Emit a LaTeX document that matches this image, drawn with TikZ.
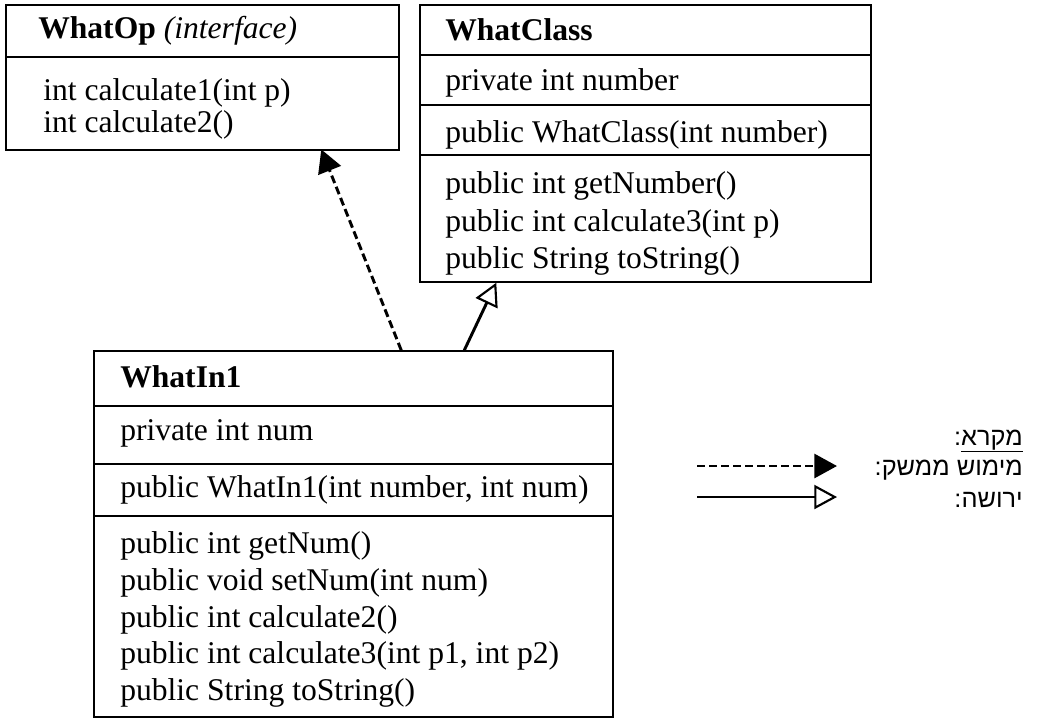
\documentclass[tikz,border=0pt]{standalone}
\usepackage{fontspec}
\setmainfont{Liberation Serif}
\newfontfamily\hebfont[Script=Hebrew]{Liberation Sans}
\TeXXeTstate=1
\usepackage{tikz}
\usetikzlibrary{arrows.meta}

\tikzset{
  classbox/.style={draw, line width=1.1pt, inner sep=0pt},
  memb/.style={anchor=base west, inner sep=0pt, font=\fontsize{23.7}{27}\selectfont},
  legtxt/.style={anchor=base east, inner sep=0pt, font=\hebfont\fontsize{19}{22}\selectfont},
  implarrow/.style={line width=2.2pt, dash pattern={on 6pt off 3pt}, -{Triangle[length=17pt,width=18pt]}},
  inhearrow/.style={line width=2.2pt, -{Triangle[open,length=17pt,width=18pt,line width=1.6pt]}}
}

\begin{document}
\begin{tikzpicture}[x=0.75pt,y=0.75pt,yscale=-1,xscale=1]
\useasboundingbox (0,0) rectangle (1052,719);

%Shape: Rectangle [WhatOp]
\node [classbox, minimum width=294.75pt, minimum height=108.75pt] (op) at (202.5,77.5) {};
\draw [line width=1.1pt] (op.west |- 0,57) -- (op.east |- 0,57) ;

%Shape: Rectangle [WhatClass]
\node [classbox, minimum width=338.25pt, minimum height=207.75pt] (cls) at (645.5,143.5) {};
\draw [line width=1.1pt] (cls.west |- 0,55) -- (cls.east |- 0,55) ;
\draw [line width=1.1pt] (cls.west |- 0,105) -- (cls.east |- 0,105) ;
\draw [line width=1.1pt] (cls.west |- 0,155) -- (cls.east |- 0,155) ;

%Shape: Rectangle [WhatIn1]
\node [classbox, minimum width=389.25pt, minimum height=274.5pt] (in1) at (353.5,534) {};
\draw [line width=1.1pt] (in1.west |- 0,406) -- (in1.east |- 0,406) ;
\draw [line width=1.1pt] (in1.west |- 0,464) -- (in1.east |- 0,464) ;
\draw [line width=1.1pt] (in1.west |- 0,516) -- (in1.east |- 0,516) ;

% Text Node
\node [memb] (opname) at (38,38) {\textbf{WhatOp} \textit{(interface)}};
\node [memb] (opm1) at (43,100) {int calculate1(int p)};
\node [memb] (opm2) at (43,132) {int calculate2()};

% Text Node
\node [memb] (clsname) at (445,40) {\textbf{WhatClass}};
\node [memb] (clsf1) at (445,90) {private int number};
\node [memb] (clsc1) at (445,142) {public WhatClass(int number)};
\node [memb] (clsm1) at (445,193) {public int getNumber()};
\node [memb] (clsm2) at (445,231) {public int calculate3(int p)};
\node [memb] (clsm3) at (445,268) {public String toString()};

% Text Node
\node [memb] (in1name) at (120,387) {\textbf{WhatIn1}};
\node [memb] (in1f1) at (120,440) {private int num};
\node [memb] (in1c1) at (120,497) {public WhatIn1(int number, int num)};
\node [memb] (in1m1) at (120,553) {public int getNum()};
\node [memb] (in1m2) at (120,590) {public void setNum(int num)};
\node [memb] (in1m3) at (120,627) {public int calculate2()};
\node [memb] (in1m4) at (120,663) {public int calculate3(int p1, int p2)};
\node [memb] (in1m5) at (120,700) {public String toString()};

%Straight Lines [implements, inherits]
\draw [implarrow] ([xshift=231pt]in1.north west) -- ([xshift=237pt,yshift=-1pt]op.south west) ;
\draw [inhearrow] ([xshift=278.25pt]in1.north west) -- ([xshift=57.75pt]cls.south west) ;

% Legend
\node [legtxt] (legtitle) at (1023,445) {\beginR\underline{\beginR מקרא\endR}:\endR};
\node [legtxt] (legimpl) at (1023,475) {\beginR מימוש ממשק:\endR};
\node [legtxt] (leginhe) at (1023,507) {\beginR ירושה:\endR};
\coordinate (implstart) at (697,466);
\coordinate (implend) at (837,466);
\coordinate (inhestart) at (697,497);
\coordinate (inheend) at (837,497);
\draw [implarrow] (implstart) -- (implend) ;
\draw [inhearrow] (inhestart) -- (inheend) ;

\end{tikzpicture}
\end{document}
